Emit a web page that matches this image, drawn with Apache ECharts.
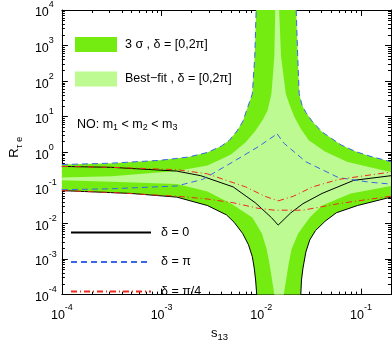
<!DOCTYPE html>
<html>
<head>
<meta charset="utf-8">
<script src="https://cdn.jsdelivr.net/npm/echarts@6/dist/echarts.min.js"></script>
<style>
html, body { margin: 0; padding: 0; background: #fff; }
#main { width: 392px; height: 347px; }
</style>
</head>
<body>
<div id="main"></div>
<script>
// axis ranges and major ticks (log10 exponents)
var xMin = 1e-4, xMax = 0.2, yMin = 1e-4, yMax = 1e4;
var xMajor = [-4, -3, -2, -1];
var yMajor = [-4, -3, -2, -1, 0, 1, 2, 3, 4];

// curves, points are [s13, R]
var blueOuterL = [[1e-4, 0.453], [3.16e-4, 0.495], [9.5e-4, 0.593], [1.85e-3, 0.733], [2.88e-3, 0.99], [4.0e-3, 1.51],
    [4.78e-3, 2.17], [5.7e-3, 3.96], [6.5e-3, 7.2], [7.28e-3, 17.9], [8.13e-3, 44], [8.6e-3, 491], [8.88e-3, 1e4]];
var blueOuterR = [[0.0224, 1e4], [0.0232, 491], [0.024, 44], [0.0256, 21.4], [0.028, 13.2], [0.0327, 7.2],
    [0.0407, 3.73], [0.0508, 2.44], [0.0634, 1.6], [0.0883, 1.05], [0.123, 0.778], [0.2, 0.542]];
var blueInnerL = [[1e-4, 0.0889], [3.16e-4, 0.0944], [1.42e-3, 0.113], [2.58e-3, 0.173], [5.22e-3, 0.542],
    [9.27e-3, 1.42], [0.01442, 3.3]];
var blueInnerR = [[0.01442, 3.3], [0.01682, 1.81], [0.028, 0.542], [0.0594, 0.1945], [0.123, 0.144], [0.2, 0.1277]];

var blackUpperL = [[1e-4, 0.401], [3.16e-4, 0.378], [1.42e-3, 0.296], [2.47e-3, 0.22], [5.22e-3, 0.1064],
    [8.7e-3, 0.0382], [0.01264, 0.0146], [0.01477, 9.0e-3]];
var blackUpperR = [[0.01477, 9.0e-3], [0.01968, 0.0197], [0.0262, 0.036], [0.0407, 0.0698], [0.0845, 0.1625], [0.2, 0.22]];
var blackLowerL = [[1e-4, 0.0838], [4.91e-4, 0.0698], [1.42e-3, 0.055], [2.88e-3, 0.0319], [4.47e-3, 0.01745],
    [5.34e-3, 0.0108], [6.5e-3, 5.24e-3], [7.43e-3, 2.54e-3], [8.13e-3, 1.16e-3], [8.49e-3, 5.6e-4],
    [8.77e-3, 2.57e-4], [9.0e-3, 1e-4]];
var blackLowerR = [[0.0249, 1e-4], [0.0253, 2.57e-4], [0.0262, 5.6e-4], [0.028, 1.57e-3], [0.0306, 3.43e-3],
    [0.0349, 6.27e-3], [0.0435, 0.01146], [0.0567, 0.02], [0.0923, 0.0319], [0.2, 0.055]];

var redUpperL = [[1e-4, 0.401], [3.16e-4, 0.378], [1.42e-3, 0.325], [2.88e-3, 0.248], [6.97e-3, 0.1064],
    [0.01083, 0.0583], [0.01477, 0.0431]];
var redUpperR = [[0.01477, 0.0431], [0.021, 0.0583], [0.0327, 0.1064], [0.0594, 0.1726], [0.2, 0.279]];
var redLower = [[1e-4, 0.0838], [3.16e-4, 0.0741], [1.42e-3, 0.0583], [2.88e-3, 0.0486], [5.22e-3, 0.0382],
    [9.27e-3, 0.0267], [0.01352, 0.0236], [0.0262, 0.0236], [0.0594, 0.036], [0.2, 0.0583]];

// edges of the best-fit region
var lightUL = [[1e-4, 0.1945], [3.16e-4, 0.213], [1.42e-3, 0.296], [2.88e-3, 0.426], [4.0e-3, 0.65], [5.0e-3, 0.877],
    [6.97e-3, 1.92], [8.7e-3, 3.96], [0.01035, 8.2], [0.01156, 14.9], [0.01264, 44], [0.01352, 491], [0.0138, 1e4]];
var lightUR = [[0.0151, 1e4], [0.01578, 491], [0.01762, 44], [0.01923, 21.4], [0.0215, 9.8], [0.0251, 4.47],
    [0.0299, 2.17], [0.0435, 1.05], [0.0724, 0.542], [0.123, 0.378], [0.2, 0.279]];
var lightLR = [[0.2, 0.113], [0.079, 0.0698], [0.0407, 0.0319], [0.0306, 0.0146], [0.02344, 5.24e-3],
    [0.0201, 1.88e-3], [0.0188, 7.2e-4], [0.01682, 1e-4]];
var lightLL = [[0.01352, 1e-4], [0.0121, 7.2e-4], [0.01133, 1.88e-3], [0.01014, 5.24e-3], [8.13e-3, 0.0146],
    [5.0e-3, 0.036], [2.88e-3, 0.0788], [1.42e-3, 0.1277], [3.16e-4, 0.148], [1e-4, 0.1625]];

var names = ['3 \u03c3 , \u03b4 = [0,2\u03c0]', 'Best\u2212fit , \u03b4 = [0,2\u03c0]',
    '\u03b4 = 0', '\u03b4 = \u03c0', '\u03b4 = \u03c0/4'];

var DARK = '#74ec12', LIGHT = '#bdfa92';
var FONT = "'Liberation Sans', Arial, sans-serif";

function lg(p) { return [Math.log10(p[0]), Math.log10(p[1])]; }
function rev(a) { return a.slice().reverse(); }

var darkPoly = blueOuterL.concat(blueOuterR, rev(blackLowerR), rev(blackLowerL)).map(lg);
var lightPoly = lightUL.concat(lightUR, lightLR, lightLL).map(lg);

function minors(lo, hi) {
    var out = [];
    for (var n = lo; n < hi; n++) {
        for (var k = 2; k <= 9; k++) {
            var v = Math.log10(k) + n;
            if (v < hi - 1e-9) out.push(v);
        }
    }
    return out;
}

var labelRich = {
    b: { fontSize: 12.5, fontFamily: FONT, color: '#000', padding: [6, 0, 0, 0] },
    s: { fontSize: 9, fontFamily: FONT, color: '#000', padding: [0, 0, 10, 0] }
};

function axis(pos, min, max, ticks, major, opts) {
    var a = {
        type: 'value', position: pos, min: min, max: max,
        splitLine: { show: false },
        axisLine: { show: major, onZero: false, lineStyle: { color: '#000', width: 1 } },
        axisTick: { show: true, inside: true, length: major ? 6 : 3, customValues: ticks,
            lineStyle: { color: '#000', width: 1 } },
        axisLabel: { show: false }
    };
    for (var k in opts) a[k] = opts[k];
    return a;
}

var lxMin = Math.log10(xMin), lxMax = Math.log10(xMax);
var lyMin = Math.log10(yMin), lyMax = Math.log10(yMax);
var labelFmt = function (v) { return '{b|10}{s|' + Math.round(v) + '}'; };

var xAxes = [
    axis('bottom', lxMin, lxMax, xMajor, true, {
        axisLabel: { show: true, customValues: xMajor, margin: 8, formatter: labelFmt, rich: labelRich },
        name: '{b|s}{s|13}', nameLocation: 'middle', nameGap: 21,
        nameTextStyle: { padding: [0, 14, 0, 0], rich: {
            b: { fontSize: 13, fontFamily: FONT, color: '#000' },
            s: { fontSize: 9.5, fontFamily: FONT, color: '#000', padding: [8, 0, 0, 0] } } }
    }),
    axis('bottom', lxMin, lxMax, minors(-4, lxMax), false, {}),
    axis('top', lxMin, lxMax, xMajor, true, {}),
    axis('top', lxMin, lxMax, minors(-4, lxMax), false, {})
];
var yAxes = [
    axis('left', lyMin, lyMax, yMajor, true, {
        axisLabel: { show: true, customValues: yMajor, margin: 27, align: 'left', formatter: labelFmt, rich: labelRich },
        name: '{b|R}{s|\u03c4 e}', nameLocation: 'middle', nameGap: 37, nameRotate: 90,
        nameTextStyle: { padding: [0, 0, 0, 10], rich: {
            b: { fontSize: 13, fontFamily: FONT, color: '#000' },
            s: { fontSize: 9.5, fontFamily: FONT, color: '#000', padding: [9, 0, 0, 0] } } }
    }),
    axis('left', lyMin, lyMax, minors(-4, 4), false, {}),
    axis('right', lyMin, lyMax, yMajor, true, {}),
    axis('right', lyMin, lyMax, minors(-4, 4), false, {})
];

function area(name, poly, color, z) {
    return {
        type: 'custom', name: name, z: z, silent: true,
        itemStyle: { color: color },
        data: [poly[0]],
        renderItem: function (params, api) {
            var pts = poly.map(function (p) { return api.coord(p); });
            return { type: 'polygon', shape: { points: pts }, style: { fill: color } };
        }
    };
}

function curve(name, pts, color, dash) {
    return {
        type: 'line', name: name, z: 5, silent: true,
        data: pts.map(lg), symbol: 'none', smooth: false,
        itemStyle: { color: color },
        lineStyle: { color: color, width: 1, type: dash }
    };
}

var BLUE = '#3a66e8', RED = '#ee2a1c';
var dashB = [6, 4], dashR = [6, 3, 1, 3];

var series = [
    area(names[0], darkPoly, DARK, 1),
    area(names[1], lightPoly, LIGHT, 2),
    curve(names[2], blackUpperL, '#000', 'solid'),
    curve(names[2], blackUpperR, '#000', 'solid'),
    curve(names[2], blackLowerL, '#000', 'solid'),
    curve(names[2], blackLowerR, '#000', 'solid'),
    curve(names[3], blueOuterL, BLUE, dashB),
    curve(names[3], blueOuterR, BLUE, dashB),
    curve(names[3], blueInnerL, BLUE, dashB),
    curve(names[3], blueInnerR, BLUE, dashB),
    curve(names[4], redUpperL, RED, dashR),
    curve(names[4], redUpperR, RED, dashR),
    curve(names[4], redLower, RED, dashR)
];

var option = {
    animation: false,
    backgroundColor: '#fff',
    grid: { left: 48, right: 1, top: 10, bottom: 31, containLabel: false },
    xAxis: xAxes,
    yAxis: yAxes,
    legend: [{
        data: [names[0], names[1]], orient: 'vertical', left: 75, top: 37, padding: 0,
        icon: 'rect', itemWidth: 42, itemHeight: 15, itemGap: 19.5, selectedMode: false,
        textStyle: { fontSize: 12.5, fontFamily: FONT, color: '#000', padding: [0, 0, 0, 3] }
    }, {
        data: [names[2], names[3], names[4]], orient: 'vertical', left: 70, top: 226, padding: 0,
        itemWidth: 80, itemHeight: 14, itemGap: 16.5, selectedMode: false,
        itemStyle: { opacity: 0 },
        textStyle: { fontSize: 12.5, fontFamily: FONT, color: '#000', padding: [0, 0, 0, 5] }
    }],
    graphic: [{
        type: 'text', left: 77, top: 118,
        style: {
            text: '{b|NO: m}{s|1}{b| < m}{s|2}{b| < m}{s|3}',
            rich: {
                b: { fontSize: 12.5, fontFamily: FONT, fill: '#000' },
                s: { fontSize: 9, fontFamily: FONT, fill: '#000', padding: [7, 0, 0, 0] }
            }
        }
    }],
    series: series
};

var myChart = echarts.init(document.getElementById('main'));
myChart.setOption(option);
</script>
</body>
</html>
